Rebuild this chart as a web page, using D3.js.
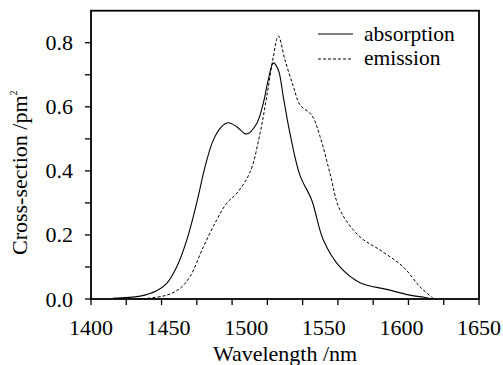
<!DOCTYPE html>
<html>
<head>
<meta charset="utf-8">
<script src="https://cdn.jsdelivr.net/npm/d3@7"></script>
<style>
  body { margin: 0; background: #fff; }
</style>
</head>
<body>
<div id="my_dataviz"></div>
<script>
// absorption cross-section (solid line)
const absWave = [1414, 1431.6, 1442.3, 1448.8, 1455.2, 1461.7, 1468.1, 1473.5, 1478.8, 1484.2, 1488.5, 1493.9,
                 1500.3, 1506.8, 1511, 1514.2, 1517.5, 1520.7, 1523.9, 1528.2, 1534.7, 1542.2, 1549.7,
                 1560.4, 1573.3, 1590.5, 1605.5, 1616.3, 1619];
const absVal  = [0.002, 0.009, 0.026, 0.049, 0.10, 0.184, 0.30, 0.413, 0.496, 0.538, 0.55, 0.538,
                 0.515, 0.548, 0.611, 0.684, 0.737, 0.715, 0.631, 0.517, 0.385, 0.309, 0.184,
                 0.10, 0.051, 0.030, 0.012, 0.004, 0.0];

// emission cross-section (dashed line)
const emWave = [1430, 1435.9, 1448.8, 1457.3, 1463.8, 1472.4, 1481, 1487.4, 1493.9, 1502.4, 1508.9, 1513.2,
                1517.5, 1520.7, 1525, 1530.4, 1534.7, 1542.2, 1547.6, 1554, 1560.4, 1573.3, 1586.2,
                1601.2, 1612, 1621];
const emVal  = [0.0, 0.002, 0.012, 0.033, 0.07, 0.163, 0.247, 0.299, 0.33, 0.395, 0.517, 0.631,
                0.756, 0.821, 0.746, 0.663, 0.606, 0.574, 0.507, 0.392, 0.278, 0.194, 0.153,
                0.10, 0.038, 0.0];

const xLabels = [1400, 1450, 1500, 1550, 1600, 1650];
const yLabels = [0.0, 0.2, 0.4, 0.6, 0.8];
const yTicks = [0, 0.1, 0.2, 0.3, 0.4, 0.5, 0.6, 0.7, 0.8];
const xTickCount = 11;   // tick intervals along the bottom axis

const width = 503
const height = 365
const margin = {
    "top": 10.7,
    "bottom": 66,
    "left": 91,
    "right": 24,
};

var svg = d3.select("#my_dataviz").append("svg")
    .attr("width", width)
    .attr("height", height);

var xScale = d3.scaleLinear().domain([1400, 1650]).range([margin.left, width - margin.right]);
var yScale = d3.scaleLinear().domain([0, 0.9]).range([height - margin.bottom, margin.top]);

var absData = absWave.map((w, i) => ({x: w, y: absVal[i]}));
var emData = emWave.map((w, i) => ({x: w, y: emVal[i]}));

var line = d3.line()
    .x(d => xScale(d.x))
    .y(d => yScale(d.y))
    .curve(d3.curveCatmullRom.alpha(0.5));

svg.append("path")
    .datum(absData)
    .attr("d", line)
    .attr("fill", "none")
    .attr("stroke", "#000")
    .attr("stroke-width", 1.1);

svg.append("path")
    .datum(emData)
    .attr("d", line)
    .attr("fill", "none")
    .attr("stroke", "#000")
    .attr("stroke-width", 1)
    .attr("stroke-dasharray", "3,2");

// frame
svg.append("rect")
    .attr("x", xScale(1400))
    .attr("y", yScale(0.9))
    .attr("width", xScale(1650) - xScale(1400))
    .attr("height", yScale(0) - yScale(0.9))
    .attr("fill", "none")
    .attr("stroke", "#000")
    .attr("stroke-width", 1.8);

// bottom ticks (11 even intervals)
var xTickVals = d3.range(xTickCount + 1).map(i => 1400 + i * 250 / xTickCount);
svg.selectAll("line.xtick")
    .data(xTickVals)
    .join("line")
        .attr("class", "xtick")
        .attr("x1", d => xScale(d)).attr("x2", d => xScale(d))
        .attr("y1", yScale(0)).attr("y2", yScale(0) + 6)
        .attr("stroke", "#000")
        .attr("stroke-width", 1.3);

// left ticks
svg.selectAll("line.ytick")
    .data(yTicks)
    .join("line")
        .attr("class", "ytick")
        .attr("x1", xScale(1400) - 6).attr("x2", xScale(1400))
        .attr("y1", d => yScale(d)).attr("y2", d => yScale(d))
        .attr("stroke", "#000")
        .attr("stroke-width", 1.3);

var labels = [];
xLabels.forEach(v => labels.push({t: String(v), x: xScale(v), y: 335, a: "middle", s: 22}));
yLabels.forEach(v => labels.push({t: v.toFixed(1), x: 73, y: yScale(v) + 7.5, a: "end", s: 22}));
labels.push({t: "Wavelength /nm", x: (xScale(1400) + xScale(1650)) / 2, y: 361, a: "middle", s: 22});
labels.push({t: "absorption", x: 364, y: 41, a: "start", s: 21.5});
labels.push({t: "emission", x: 364, y: 64.5, a: "start", s: 21.5});

svg.selectAll("text.lab")
    .data(labels)
    .join("text")
        .attr("class", "lab")
        .attr("x", d => d.x)
        .attr("y", d => d.y)
        .attr("text-anchor", d => d.a)
        .attr("font-size", d => d.s + "px")
        .attr("font-family", d => "Liberation Serif")
        .text(d => d.t);

var ylab = svg.append("text")
    .attr("transform", "translate(27,255) rotate(-90)")
    .attr("text-anchor", "start")
    .attr("font-family", "Liberation Serif")
    .attr("font-size", "22px");
ylab.append("tspan").text("Cross-section /pm");
ylab.append("tspan").attr("dy", -10).attr("font-size", "10px").text("2");

// legend lines
svg.append("line")
    .attr("x1", 318).attr("x2", 353)
    .attr("y1", 34).attr("y2", 34)
    .attr("stroke", "#000")
    .attr("stroke-width", 1.1);

svg.append("line")
    .attr("x1", 318).attr("x2", 353)
    .attr("y1", 59).attr("y2", 59)
    .attr("stroke", "#000")
    .attr("stroke-width", 1)
    .attr("stroke-dasharray", "3,2");
</script>
</body>
</html>
